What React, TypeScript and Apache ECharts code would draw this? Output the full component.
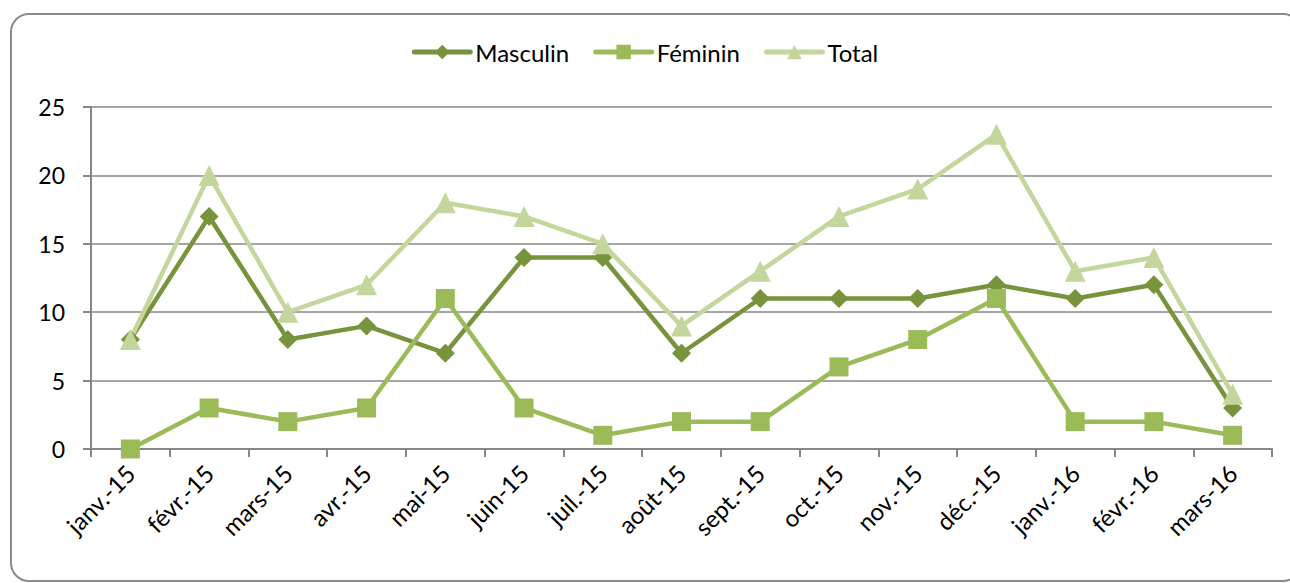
import React, { useEffect, useRef } from "react";
import * as echarts from "echarts";

const categories = ["janv.-15", "févr.-15", "mars-15", "avr.-15", "mai-15", "juin-15", "juil.-15", "août-15", "sept.-15", "oct.-15", "nov.-15", "déc.-15", "janv.-16", "févr.-16", "mars-16"];
const masculin = [8, 17, 8, 9, 7, 14, 14, 7, 11, 11, 11, 12, 11, 12, 3];
const feminin = [0, 3, 2, 3, 11, 3, 1, 2, 2, 6, 8, 11, 2, 2, 1];
const total = [8, 20, 10, 12, 18, 17, 15, 9, 13, 17, 19, 23, 13, 14, 4];

const FONT = "Lato, 'Open Sans', sans-serif";

export default function App() {
  const ref = useRef<HTMLDivElement>(null);
  useEffect(() => {
    document.body.style.margin = "0";
    const chart = echarts.init(ref.current!, null, { renderer: "svg" });
    const mk = (name: string, data: number[], color: string, symbol: string, size: number) => ({
      name,
      type: "line",
      data,
      symbol,
      symbolSize: size,
      showAllSymbol: true,
      lineStyle: { color, width: 4.5, cap: "round" },
      itemStyle: { color },
      emphasis: { disabled: true },
    });
    chart.setOption({
      animation: false,
      textStyle: { fontFamily: FONT },
      graphic: [
        {
          type: "rect",
          shape: { x: 11, y: 14, width: 1290, height: 567, r: 18 },
          style: { fill: "none", stroke: "#8a8a8a", lineWidth: 2 },
          z: -1,
        },
      ],
      legend: {
        top: 35,
        left: "center",
        itemWidth: 56,
        itemHeight: 18,
        itemGap: 24,
        lineStyle: { width: 5, cap: "round" },
        textStyle: { fontSize: 24, color: "#000", fontFamily: FONT, padding: [0, 0, 0, 0] },
        data: ["Masculin", "Féminin", "Total"],
      },
      grid: { left: 91, right: 18, top: 107, bottom: 134, containLabel: false },
      xAxis: {
        type: "category",
        data: categories,
        boundaryGap: true,
        axisLine: { lineStyle: { color: "#878787", width: 2 } },
        axisTick: { show: true, length: 8, lineStyle: { color: "#878787", width: 2 } },
        axisLabel: { rotate: 45, fontSize: 24, color: "#000", margin: 20, fontFamily: FONT },
      },
      yAxis: {
        type: "value",
        min: 0,
        max: 25,
        interval: 5,
        axisLine: { show: true, lineStyle: { color: "#878787", width: 2 } },
        axisTick: { show: true, length: 8, lineStyle: { color: "#878787", width: 2 } },
        splitLine: { lineStyle: { color: "#878787", width: 1.5 } },
        axisLabel: { fontSize: 23, color: "#000", margin: 26, fontFamily: FONT },
      },
      series: [
        mk("Masculin", masculin, "#77933C", "diamond", 19),
        mk("Féminin", feminin, "#9BBB59", "rect", 19),
        mk("Total", total, "#C3D69B", "triangle", 21),
      ],
    });
    return () => chart.dispose();
  }, []);
  return <div ref={ref} style={{ position: "absolute", left: 0, top: 0, width: 1290, height: 583 }} />;
}
